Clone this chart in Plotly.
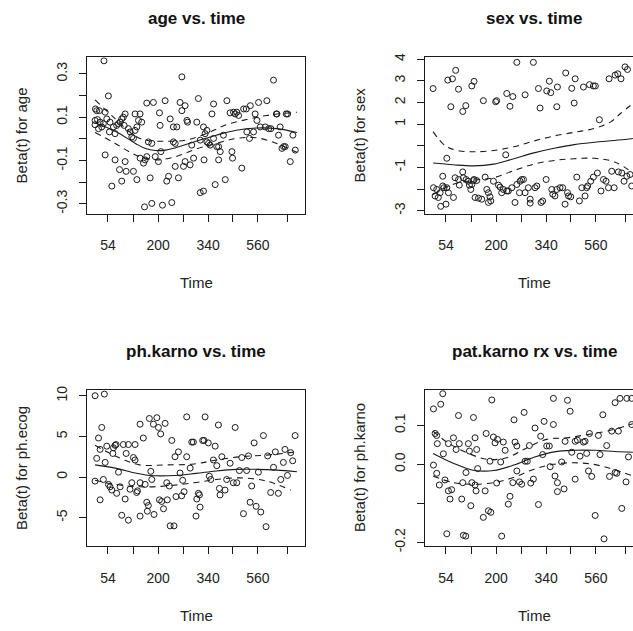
import plotly.graph_objects as go

# ---- x axis: Kaplan-Meier transformed time (0 = first event, 1 = last event)
time_tick_pos = [0.064, 0.188, 0.312, 0.436, 0.560, 0.683, 0.807, 0.951]
time_tick_lab = ["54", "", "200", "", "340", "", "560", ""]

# ---- age: scaled Schoenfeld residuals
age_u = [0.044, 0.066, 0.002, 0.008, 0.021, 0.0, 0.012, 0.025, 0.0, 0.017, 0.033, 0.050, 0.058,
         0.041, 0.074, 0.071, 0.091, 0.099, 0.107, 0.116, 0.124, 0.132, 0.140, 0.149, 0.144, 0.165,
         0.174, 0.182, 0.190, 0.198, 0.207, 0.198, 0.223, 0.215, 0.231, 0.050, 0.099, 0.121, 0.149,
         0.154, 0.132, 0.083, 0.190, 0.207, 0.223, 0.240, 0.256, 0.289, 0.264, 0.281, 0.256, 0.248,
         0.273, 0.298, 0.314, 0.326, 0.319, 0.322, 0.347, 0.355, 0.364, 0.372, 0.388, 0.397, 0.405,
         0.380, 0.334, 0.245, 0.281, 0.430, 0.421, 0.430, 0.446, 0.455, 0.458, 0.413, 0.397, 0.388,
         0.438, 0.446, 0.471, 0.479, 0.488, 0.504, 0.512, 0.521, 0.537, 0.554, 0.545, 0.540, 0.521,
         0.537, 0.554, 0.562, 0.570, 0.587, 0.579, 0.587, 0.603, 0.612, 0.595, 0.612, 0.620, 0.636,
         0.645, 0.653, 0.669, 0.678, 0.681, 0.686, 0.694, 0.702, 0.711, 0.727, 0.736, 0.749, 0.752,
         0.765, 0.769, 0.785, 0.793, 0.802, 0.810, 0.818, 0.843, 0.860, 0.851, 0.871, 0.884, 0.898,
         0.909, 0.917, 0.926, 0.934, 0.942, 0.947, 0.954, 0.967, 0.980, 0.992, 0.901]
age_beta = [0.360, 0.198, 0.138, 0.130, 0.130, 0.085, 0.089, 0.077, 0.065, 0.047, 0.055, 0.123, 0.092,
            0.070, 0.077, 0.032, 0.055, 0.024, 0.062, 0.070, 0.077, 0.092, 0.100, 0.115, 0.062, 0.047,
            0.032, 0.009, 0.002, 0.039, 0.055, 0.115, 0.115, 0.085, 0.077, -0.074, -0.097, -0.142, -0.105,
            -0.150, -0.195, -0.218, -0.150, -0.188, -0.089, -0.112, 0.165, 0.168, -0.014, -0.021, -0.082, -0.097,
            -0.180, -0.082, -0.105, -0.059, 0.120, 0.062, 0.176, -0.195, -0.173, 0.092, 0.055, -0.127, 0.055,
            -0.294, -0.306, -0.314, -0.298, 0.286, 0.168, 0.130, 0.153, 0.085, 0.077, -0.180, -0.021, -0.014,
            -0.127, -0.105, -0.120, -0.029, -0.089, 0.077, 0.186, -0.006, 0.055, 0.039, 0.024, -0.097, -0.248,
            -0.241, -0.014, -0.021, -0.029, 0.002, 0.115, 0.161, -0.036, -0.036, -0.211, -0.097, -0.059, 0.017,
            -0.188, 0.176, 0.120, -0.059, -0.089, 0.123, 0.115, 0.123, 0.108, -0.135, 0.138, 0.138, 0.032,
            0.002, 0.153, 0.032, 0.115, 0.085, 0.168, 0.055, 0.055, 0.047, 0.176, 0.047, 0.271, 0.115,
            0.017, 0.055, -0.044, -0.036, -0.036, 0.115, 0.115, -0.105, 0.017, -0.052, 0.115]
age_fit_u = [0.0, 0.1, 0.2, 0.25, 0.3, 0.35, 0.4, 0.5, 0.6, 0.7, 0.8, 0.9, 1.0]
age_fit = [0.073, 0.035, -0.021, -0.045, -0.054, -0.052, -0.041, -0.011, 0.017, 0.040, 0.050, 0.047, 0.029]
age_hi_u = [0.0, 0.1, 0.2, 0.25, 0.35, 0.45, 0.55, 0.65, 0.75, 0.85, 1.0]
age_hi = [0.180, 0.092, 0.012, -0.006, -0.011, -0.006, 0.024, 0.065, 0.089, 0.108, 0.123]
age_lo_u = [0.0, 0.1, 0.2, 0.3, 0.4, 0.5, 0.6, 0.7, 0.8, 0.9, 1.0]
age_lo = [0.029, -0.021, -0.074, -0.097, -0.082, -0.047, -0.021, 0.002, 0.005, -0.021, -0.062]

# ---- sex
sex_u = [0.0, 0.073, 0.096, 0.112, 0.126, 0.088, 0.147, 0.162, 0.192, 0.203, 0.249, 0.310, 0.315,
         0.365, 0.395, 0.381, 0.415, 0.497, 0.456, 0.522, 0.530, 0.563, 0.576, 0.583, 0.616, 0.613,
         0.657, 0.687, 0.704, 0.699, 0.745, 0.775, 0.794, 0.804, 0.824, 0.872, 0.902, 0.915, 0.931,
         0.951, 0.963, 0.360, 0.068,
         0.002, 0.018, 0.010, 0.026, 0.035, 0.048, 0.048, 0.054, 0.068, 0.076, 0.038, 0.064, 0.101,
         0.109, 0.126, 0.130, 0.147, 0.150, 0.164, 0.175, 0.180, 0.192, 0.200, 0.203, 0.216, 0.187,
         0.208, 0.225, 0.241, 0.258, 0.266, 0.274, 0.282, 0.286, 0.274, 0.299, 0.324, 0.332, 0.340,
         0.348, 0.365, 0.373, 0.390, 0.406, 0.415, 0.431, 0.439, 0.448, 0.428, 0.456, 0.472, 0.481,
         0.481, 0.505, 0.514, 0.535, 0.543, 0.560, 0.588, 0.593, 0.604, 0.613, 0.629, 0.642, 0.654,
         0.666, 0.671, 0.682, 0.712, 0.725, 0.737, 0.753, 0.761, 0.766, 0.781, 0.794, 0.814, 0.832,
         0.844, 0.857, 0.869, 0.885, 0.897, 0.918, 0.935, 0.946, 0.960, 0.984, 0.976]
sex_beta = [2.64, 3.03, 3.09, 3.48, 2.61, 1.80, 1.58, 1.85, 2.76, 2.97, 2.08, 2.03, 2.08,
            2.41, 2.27, 1.82, 3.85, 3.85, 2.35, 2.64, 1.74, 2.53, 2.98, 2.45, 2.71, 1.80,
            3.36, 2.65, 3.09, 1.97, 2.71, 2.82, 2.76, 2.76, 1.20, 3.09, 3.26, 3.32, 3.09,
            3.64, 3.52, -0.42, -0.58,
            -1.94, -2.02, -2.32, -2.39, -2.17, -1.41, -1.86, -1.94, -1.94, -2.17, -2.80, -2.70, -2.39,
            -1.48, -1.56, -1.82, -1.21, -1.48, -1.56, -1.64, -1.82, -1.79, -1.61, -1.56, -1.61, -2.02,
            -2.39, -2.42, -2.47, -1.45, -2.02, -2.17, -2.36, -2.55, -2.62, -1.64, -1.82, -1.91, -2.17,
            -2.02, -2.09, -2.09, -1.94, -2.62, -1.79, -1.64, -1.56, -1.56, -2.17, -2.17, -1.94, -2.47,
            -2.65, -1.94, -1.86, -2.62, -2.55, -1.56, -2.02, -2.24, -2.32, -2.02, -1.94, -1.94, -2.70,
            -2.17, -2.32, -2.36, -1.45, -2.55, -1.94, -2.32, -1.94, -1.86, -1.64, -1.45, -1.26, -2.09,
            -1.56, -1.64, -1.94, -1.18, -1.94, -1.21, -1.26, -1.64, -1.41, -1.86, -1.33]
sex_fit_u = [0.0, 0.1, 0.2, 0.3, 0.4, 0.5, 0.6, 0.7, 0.8, 0.9, 0.99]
sex_fit = [-0.80, -0.88, -0.93, -0.85, -0.60, -0.33, -0.12, 0.05, 0.16, 0.24, 0.33]
sex_hi_u = [0.0, 0.06, 0.12, 0.2, 0.3, 0.4, 0.5, 0.6, 0.7, 0.8, 0.88, 0.93, 0.99]
sex_hi = [0.65, 0.0, -0.22, -0.28, -0.22, -0.05, 0.22, 0.45, 0.62, 0.80, 1.10, 1.50, 1.95]
sex_lo_u = [0.0, 0.1, 0.2, 0.3, 0.4, 0.5, 0.6, 0.7, 0.8, 0.9, 0.99]
sex_lo = [-2.25, -1.78, -1.60, -1.48, -1.15, -0.85, -0.68, -0.60, -0.58, -0.75, -1.26]

# ---- ph.ecog
ecog_u = [0.0, 0.046, 0.033, 0.017, 0.025, 0.058, 0.008, 0.050, 0.041, 0.0, 0.025, 0.066, 0.074,
          0.083, 0.091, 0.099, 0.104, 0.088, 0.116, 0.124, 0.107, 0.132, 0.149, 0.154, 0.140, 0.165,
          0.165, 0.173, 0.182, 0.190, 0.198, 0.198, 0.206, 0.210, 0.223, 0.223, 0.239, 0.223, 0.248,
          0.256, 0.259, 0.264, 0.276, 0.281, 0.269, 0.289, 0.306, 0.314, 0.292, 0.325, 0.330, 0.319,
          0.339, 0.358, 0.347, 0.355, 0.368, 0.380, 0.372, 0.391, 0.396, 0.401, 0.413, 0.421, 0.429,
          0.441, 0.434, 0.454, 0.454, 0.471, 0.479, 0.487, 0.504, 0.512, 0.520, 0.517, 0.500, 0.533,
          0.545, 0.540, 0.561, 0.566, 0.573, 0.586, 0.595, 0.603, 0.611, 0.616, 0.619, 0.628, 0.644,
          0.652, 0.669, 0.685, 0.694, 0.702, 0.715, 0.727, 0.735, 0.751, 0.760, 0.776, 0.768, 0.788,
          0.798, 0.809, 0.821, 0.834, 0.847, 0.855, 0.870, 0.884, 0.893, 0.908, 0.920, 0.933, 0.941,
          0.953, 0.969, 0.979, 0.991]
ecog_beta = [10.0, 10.2, 6.1, 4.8, 3.4, 3.8, 2.3, 1.8, -0.3, -0.5, -2.8, -0.9, -1.2,
             -1.6, 3.6, 3.9, 4.0, 2.9, 0.6, -1.2, -2.0, -4.7, -2.7, 2.9, 4.0, 4.0,
             -5.3, -1.5, -0.7, 2.4, 2.1, 4.0, -1.9, -1.7, -0.7, 6.5, 4.8, -4.8, -0.9,
             -3.1, -4.2, -3.5, 0.7, -0.3, 7.2, 6.5, 7.3, 6.1, -4.6, 5.3, -3.0, -2.8,
             -3.9, -2.8, 6.6, -0.7, -1.1, 4.5, -6.0, -6.0, 2.5, -2.4, 3.1, 0.5, -2.3,
             -1.8, -0.4, 7.4, 2.5, 1.1, 4.3, 4.3, -2.7, -2.0, -3.7, -2.2, -4.8, 4.5,
             7.4, 4.5, 4.2, 0.1, -0.3, 2.1, 3.8, 1.4, 6.4, -1.4, -2.2, 2.5, -1.6,
             -0.3, 1.7, -0.7, 6.1, -0.7, 0.8, 2.4, -4.5, 0.8, 2.6, -1.1, -3.1, 4.2,
             -3.6, 0.6, -4.3, 5.1, -6.1, 2.6, -1.9, 1.2, 3.1, -2.0, -0.3, 1.8, 3.4,
             0.2, 3.0, 2.0, 5.1]
ecog_fit_u = [0.0, 0.1, 0.2, 0.27, 0.4, 0.5, 0.6, 0.7, 0.8, 0.9, 1.0]
ecog_fit = [1.5, 1.1, 0.5, 0.2, 0.2, 0.45, 0.75, 0.95, 0.95, 0.85, 0.65]
ecog_hi_u = [0.0, 0.1, 0.22, 0.35, 0.49, 0.6, 0.72, 0.85, 1.0]
ecog_hi = [3.9, 2.6, 1.5, 1.5, 1.6, 2.1, 2.5, 2.7, 3.1]
ecog_lo_u = [0.0, 0.1, 0.22, 0.35, 0.49, 0.6, 0.72, 0.85, 0.97]
ecog_lo = [-0.4, -0.9, -1.2, -1.1, -0.7, -0.3, -0.1, -0.5, -1.6]

# ---- ph.karno
karno_u = [0.002, 0.038, 0.048, 0.010, 0.018, 0.021, 0.002, 0.051, 0.018, 0.059, 0.031, 0.076, 0.092,
           0.084, 0.068, 0.076, 0.101, 0.114, 0.126, 0.130, 0.142, 0.147, 0.150, 0.162, 0.163, 0.175,
           0.180, 0.187, 0.192, 0.208, 0.213, 0.200, 0.208, 0.216, 0.221, 0.249, 0.258, 0.263, 0.274,
           0.286, 0.291, 0.282, 0.299, 0.307, 0.315, 0.319, 0.335, 0.340, 0.348, 0.357, 0.373, 0.381,
           0.395, 0.401, 0.406, 0.415, 0.415, 0.428, 0.439, 0.451, 0.456, 0.467, 0.477, 0.484, 0.497,
           0.505, 0.522, 0.533, 0.543, 0.550, 0.563, 0.576, 0.580, 0.596, 0.596, 0.604, 0.616, 0.616,
           0.637, 0.649, 0.654, 0.666, 0.679, 0.704, 0.715, 0.687, 0.704, 0.728, 0.745, 0.753, 0.761,
           0.775, 0.770, 0.786, 0.803, 0.819, 0.827, 0.841, 0.847, 0.860, 0.874, 0.885, 0.902, 0.910,
           0.918, 0.935, 0.902, 0.926, 0.960, 0.984, 0.956, 0.968, 0.984]
karno_beta = [0.142, 0.154, 0.181, 0.079, 0.074, 0.053, -0.002, 0.027, -0.023, -0.040, -0.053, -0.068, -0.065,
              -0.089, -0.178, 0.053, 0.068, 0.038, 0.125, 0.053, -0.089, -0.047, -0.182, -0.184, -0.021, 0.053,
              0.034, -0.106, -0.047, -0.053, -0.068, 0.120, 0.068, 0.038, -0.011, -0.136, -0.068, 0.079, -0.119,
              -0.123, 0.165, 0.008, 0.070, 0.055, -0.048, 0.064, 0.006, -0.184, 0.057, 0.036, -0.102, -0.082,
              -0.047, 0.114, 0.057, -0.017, 0.047, -0.045, -0.051, 0.133, 0.008, 0.008, 0.048, -0.048, -0.038,
              0.093, -0.103, 0.072, 0.025, 0.110, 0.047, 0.047, -0.006, 0.102, 0.169, -0.030, -0.047, -0.070,
              0.006, -0.063, 0.059, 0.164, 0.136, 0.059, 0.062, 0.031, -0.038, 0.021, 0.057, 0.059, 0.028,
              0.079, -0.017, -0.031, -0.131, 0.074, 0.025, 0.127, -0.191, 0.048, -0.031, 0.085, -0.021, -0.023,
              0.085, -0.113, 0.158, 0.169, 0.169, 0.169, -0.045, 0.019, 0.102]
karno_fit_u = [0.0, 0.1, 0.2, 0.3, 0.4, 0.5, 0.6, 0.7, 0.8, 0.9, 0.99]
karno_fit = [0.028, 0.003, -0.015, -0.016, -0.002, 0.018, 0.032, 0.036, 0.036, 0.033, 0.031]
karno_hi_u = [0.0, 0.068, 0.167, 0.266, 0.365, 0.464, 0.563, 0.662, 0.761, 0.86, 0.99]
karno_hi = [0.085, 0.057, 0.030, 0.013, 0.017, 0.042, 0.064, 0.068, 0.076, 0.085, 0.104]
karno_lo_u = [0.0, 0.101, 0.2, 0.299, 0.398, 0.497, 0.596, 0.695, 0.794, 0.893, 0.99]
karno_lo = [-0.030, -0.047, -0.051, -0.047, -0.034, -0.013, 0.0, 0.004, 0.0, -0.013, -0.030]

panels = [
    dict(title="age vs. time", ylab="Beta(t) for age", u=age_u, b=age_beta,
         fu=age_fit_u, f=age_fit, hu=age_hi_u, h=age_hi, lu=age_lo_u, l=age_lo,
         yr=[-0.345, 0.377], yt=[-0.3, -0.2, -0.1, 0.0, 0.1, 0.2, 0.3],
         ytl=["-0.3", "", "-0.1", "", "0.1", "", "0.3"]),
    dict(title="sex vs. time", ylab="Beta(t) for sex", u=sex_u, b=sex_beta,
         fu=sex_fit_u, f=sex_fit, hu=sex_hi_u, h=sex_hi, lu=sex_lo_u, l=sex_lo,
         yr=[-3.136, 4.09], yt=[-3, -2, -1, 0, 1, 2, 3, 4],
         ytl=["-3", "", "-1", "", "1", "2", "3", "4"]),
    dict(title="ph.karno vs. time", ylab="Beta(t) for ph.ecog", u=ecog_u, b=ecog_beta,
         fu=ecog_fit_u, f=ecog_fit, hu=ecog_hi_u, h=ecog_hi, lu=ecog_lo_u, l=ecog_lo,
         yr=[-8.51, 10.73], yt=[-5, 0, 5, 10], ytl=["-5", "0", "5", "10"]),
    dict(title="pat.karno rx vs. time", ylab="Beta(t) for ph.karno", u=karno_u, b=karno_beta,
         fu=karno_fit_u, f=karno_fit, hu=karno_hi_u, h=karno_hi, lu=karno_lo_u, l=karno_lo,
         yr=[-0.210, 0.191], yt=[-0.2, -0.1, 0.0, 0.1], ytl=["-0.2", "", "0.0", "0.1"]),
]

W, H = 633, 631
# plot boxes in pixels: (left, right, top, bottom)
boxes = [(87, 305, 54, 213), (425, 643, 54, 213), (87, 305, 392, 551), (425, 643, 392, 551)]

FONT = "Liberation Sans, Arial, Helvetica, sans-serif"
INK = "#1a1a1a"

fig = go.Figure()
annotations = []
for i, (p, (bl, br, bt, bb)) in enumerate(zip(panels, boxes)):
    n = "" if i == 0 else str(i + 1)
    xa, ya = "x" + n, "y" + n
    visible_r = min(br, W)
    full_span = 1.08 / (br - bl)  # R pads the data range by 4% on each side
    x_hi = -0.04 + (visible_r - bl) * full_span
    fig.add_trace(go.Scatter(x=p["u"], y=p["b"], mode="markers", xaxis=xa, yaxis=ya,
                             marker=dict(symbol="circle-open", size=6, color=INK,
                                         line=dict(width=1, color=INK)),
                             showlegend=False, hoverinfo="skip"))
    fig.add_trace(go.Scatter(x=p["fu"], y=p["f"], mode="lines", xaxis=xa, yaxis=ya,
                             line=dict(color=INK, width=1.1, shape="spline", smoothing=1.0),
                             showlegend=False, hoverinfo="skip"))
    for cu, cv in ((p["hu"], p["h"]), (p["lu"], p["l"])):
        fig.add_trace(go.Scatter(x=cu, y=cv, mode="lines", xaxis=xa, yaxis=ya,
                                 line=dict(color=INK, width=1.1, dash="6px,5px",
                                           shape="spline", smoothing=1.0),
                                 showlegend=False, hoverinfo="skip"))

    xdom = [bl / W, visible_r / W]
    ydom = [1 - bb / H, 1 - bt / H]
    axis_common = dict(showgrid=False, zeroline=False, showline=True, linecolor=INK,
                       linewidth=1, ticks="outside", ticklen=7, tickcolor=INK, tickwidth=1,
                       tickfont=dict(family=FONT, size=14, color="#222"))
    fig.layout["xaxis" + n] = dict(axis_common, domain=xdom, range=[-0.04, x_hi],
                                   anchor=ya, mirror=True, tickmode="array",
                                   tickvals=time_tick_pos, ticktext=time_tick_lab,
                                   ticklabelstandoff=12)
    fig.layout["yaxis" + n] = dict(axis_common, domain=ydom, range=p["yr"], anchor=xa,
                                   mirror=(br <= W), tickmode="array", tickvals=p["yt"],
                                   ticktext=p["ytl"], tickangle=-90, ticklabelstandoff=6)

    cx = (bl + br) / 2 / W
    common = dict(xref="paper", yref="paper", showarrow=False,
                  xanchor="center", yanchor="middle")
    annotations.append(dict(common, text="<b>%s</b>" % p["title"], x=cx, y=1 - (bt - 39) / H,
                            font=dict(family=FONT, size=17, color="#111")))
    annotations.append(dict(common, text="Time", x=cx, y=1 - (bb + 70) / H,
                            font=dict(family=FONT, size=15, color="#222")))
    annotations.append(dict(common, text=p["ylab"], x=(bl - 66) / W, y=1 - (bt + bb) / 2 / H,
                            textangle=-90, font=dict(family=FONT, size=15, color="#222")))

fig.update_layout(width=W, height=H, autosize=False, margin=dict(l=0, r=0, t=0, b=0, pad=0),
                  paper_bgcolor="white", plot_bgcolor="white", annotations=annotations)

fig.write_html("out.html", config={"displayModeBar": False})
